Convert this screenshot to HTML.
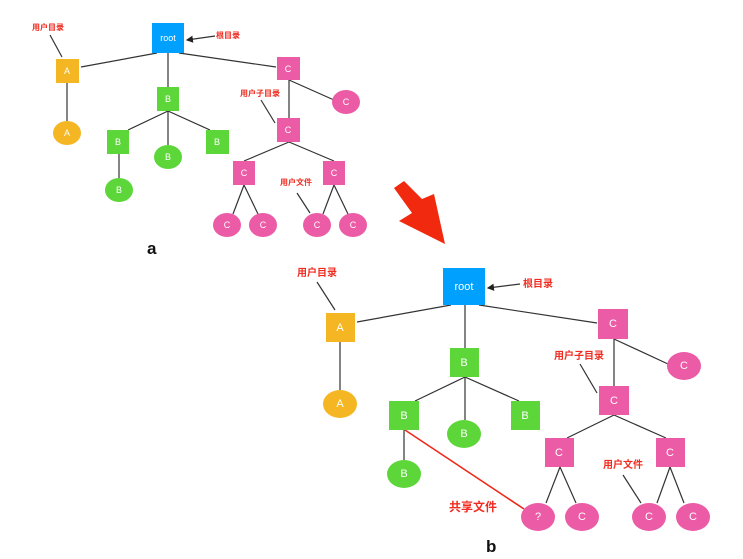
<!DOCTYPE html>
<html><head><meta charset="utf-8"><style>
html,body{margin:0;padding:0;background:#fff;}
svg{display:block;}
text{font-family:"Liberation Sans","Noto Sans CJK SC",sans-serif;}
.n{fill:#fff;font-size:9px;text-anchor:middle;dominant-baseline:central;}
.N{fill:#fff;font-size:11px;text-anchor:middle;dominant-baseline:central;}
.l{fill:#f02b20;font-size:8px;font-weight:bold;}
.L{fill:#f02b20;font-size:10px;font-weight:bold;}
line{stroke:#333;stroke-width:1.2;}
</style></head><body>
<svg width="743" height="559" viewBox="0 0 743 559" xmlns="http://www.w3.org/2000/svg">
<defs><marker id="ar" markerWidth="6" markerHeight="6" refX="5" refY="3" orient="auto"><path d="M0,0 L6,3 L0,6 z" fill="#222"/></marker></defs>
<!-- diagram a lines -->
<line x1="157" y1="53" x2="81" y2="67"/>
<line x1="168" y1="53" x2="168" y2="87"/>
<line x1="179" y1="53" x2="276" y2="67"/>
<line x1="67" y1="83" x2="67" y2="121"/>
<line x1="168" y1="111" x2="128" y2="130"/>
<line x1="168" y1="111" x2="168" y2="146"/>
<line x1="168" y1="111" x2="210" y2="130"/>
<line x1="119" y1="154" x2="119" y2="178"/>
<line x1="289" y1="80" x2="289" y2="118"/>
<line x1="289" y1="80" x2="334" y2="100"/>
<line x1="289" y1="142" x2="244" y2="161"/>
<line x1="289" y1="142" x2="334" y2="161"/>
<line x1="244" y1="185" x2="233" y2="214"/>
<line x1="244" y1="185" x2="258" y2="214"/>
<line x1="334" y1="185" x2="323" y2="214"/>
<line x1="334" y1="185" x2="348" y2="214"/>
<line x1="50" y1="35" x2="62" y2="57"/>
<line x1="261" y1="100" x2="275" y2="123"/>
<line x1="297" y1="193" x2="310" y2="213"/>
<line x1="215" y1="36" x2="187" y2="40" marker-end="url(#ar)"/>
<!-- diagram a nodes -->
<rect x="152" y="23" width="32" height="30" fill="#00a0ff"/><text class="n" x="168" y="38">root</text>
<rect x="56" y="59" width="23" height="24" fill="#f5b623"/><text class="n" x="67" y="71">A</text>
<ellipse cx="67" cy="133" rx="14" ry="12" fill="#f5b623"/><text class="n" x="67" y="133">A</text>
<rect x="157" y="87" width="22" height="24" fill="#5dd63a"/><text class="n" x="168" y="99">B</text>
<rect x="107" y="130" width="22" height="24" fill="#5dd63a"/><text class="n" x="118" y="142">B</text>
<rect x="206" y="130" width="23" height="24" fill="#5dd63a"/><text class="n" x="217" y="142">B</text>
<ellipse cx="168" cy="157" rx="14" ry="12" fill="#5dd63a"/><text class="n" x="168" y="157">B</text>
<ellipse cx="119" cy="190" rx="14" ry="12" fill="#5dd63a"/><text class="n" x="119" y="190">B</text>
<rect x="277" y="57" width="23" height="23" fill="#ec5ba6"/><text class="n" x="288" y="69">C</text>
<ellipse cx="346" cy="102" rx="14" ry="12" fill="#ec5ba6"/><text class="n" x="346" y="102">C</text>
<rect x="277" y="118" width="23" height="24" fill="#ec5ba6"/><text class="n" x="288" y="130">C</text>
<rect x="233" y="161" width="22" height="24" fill="#ec5ba6"/><text class="n" x="244" y="173">C</text>
<rect x="323" y="161" width="22" height="24" fill="#ec5ba6"/><text class="n" x="334" y="173">C</text>
<ellipse cx="227" cy="225" rx="14" ry="12" fill="#ec5ba6"/><text class="n" x="227" y="225">C</text>
<ellipse cx="263" cy="225" rx="14" ry="12" fill="#ec5ba6"/><text class="n" x="263" y="225">C</text>
<ellipse cx="317" cy="225" rx="14" ry="12" fill="#ec5ba6"/><text class="n" x="317" y="225">C</text>
<ellipse cx="353" cy="225" rx="14" ry="12" fill="#ec5ba6"/><text class="n" x="353" y="225">C</text>
<text class="l" x="32" y="30">用户目录</text>
<text class="l" x="216" y="38">根目录</text>
<text class="l" x="240" y="96">用户子目录</text>
<text class="l" x="280" y="185">用户文件</text>
<text x="147" y="254" font-size="17" font-weight="bold" fill="#111">a</text>
<!-- big arrow -->
<polygon points="394,188 404,181 422,199 434,194 445,244 399,221 412,213" fill="#f1290f"/>
<!-- diagram b lines -->
<line x1="451" y1="305" x2="357" y2="322"/>
<line x1="465" y1="305" x2="465" y2="348"/>
<line x1="479" y1="305" x2="597" y2="323"/>
<line x1="340" y1="342" x2="340" y2="390"/>
<line x1="465" y1="377" x2="415" y2="401"/>
<line x1="465" y1="377" x2="465" y2="420"/>
<line x1="465" y1="377" x2="519" y2="401"/>
<line x1="404" y1="430" x2="404" y2="460"/>
<line x1="614" y1="339" x2="614" y2="386"/>
<line x1="614" y1="339" x2="668" y2="364"/>
<line x1="614" y1="415" x2="567" y2="438"/>
<line x1="614" y1="415" x2="666" y2="438"/>
<line x1="560" y1="467" x2="546" y2="503"/>
<line x1="560" y1="467" x2="576" y2="503"/>
<line x1="670" y1="467" x2="657" y2="503"/>
<line x1="670" y1="467" x2="684" y2="503"/>
<line x1="317" y1="282" x2="335" y2="310"/>
<line x1="580" y1="364" x2="597" y2="393"/>
<line x1="623" y1="475" x2="641" y2="503"/>
<line x1="520" y1="284" x2="488" y2="288" marker-end="url(#ar)"/>
<line x1="405" y1="430" x2="524" y2="509" style="stroke:#ee2a1a;stroke-width:1.6"/>
<!-- diagram b nodes -->
<rect x="443" y="268" width="42" height="37" fill="#00a0ff"/><text class="N" x="464" y="287">root</text>
<rect x="326" y="313" width="29" height="29" fill="#f5b623"/><text class="N" x="340" y="328">A</text>
<ellipse cx="340" cy="404" rx="17" ry="14" fill="#f5b623"/><text class="N" x="340" y="404">A</text>
<rect x="450" y="348" width="29" height="29" fill="#5dd63a"/><text class="N" x="464" y="363">B</text>
<rect x="389" y="401" width="30" height="29" fill="#5dd63a"/><text class="N" x="404" y="416">B</text>
<rect x="511" y="401" width="29" height="29" fill="#5dd63a"/><text class="N" x="525" y="416">B</text>
<ellipse cx="464" cy="434" rx="17" ry="14" fill="#5dd63a"/><text class="N" x="464" y="434">B</text>
<ellipse cx="404" cy="474" rx="17" ry="14" fill="#5dd63a"/><text class="N" x="404" y="474">B</text>
<rect x="598" y="309" width="30" height="30" fill="#ec5ba6"/><text class="N" x="613" y="324">C</text>
<ellipse cx="684" cy="366" rx="17" ry="14" fill="#ec5ba6"/><text class="N" x="684" y="366">C</text>
<rect x="599" y="386" width="30" height="29" fill="#ec5ba6"/><text class="N" x="614" y="401">C</text>
<rect x="545" y="438" width="29" height="29" fill="#ec5ba6"/><text class="N" x="559" y="453">C</text>
<rect x="656" y="438" width="29" height="29" fill="#ec5ba6"/><text class="N" x="670" y="453">C</text>
<ellipse cx="538" cy="517" rx="17" ry="14" fill="#ec5ba6"/><text class="N" x="538" y="517">?</text>
<ellipse cx="582" cy="517" rx="17" ry="14" fill="#ec5ba6"/><text class="N" x="582" y="517">C</text>
<ellipse cx="649" cy="517" rx="17" ry="14" fill="#ec5ba6"/><text class="N" x="649" y="517">C</text>
<ellipse cx="693" cy="517" rx="17" ry="14" fill="#ec5ba6"/><text class="N" x="693" y="517">C</text>
<text class="L" x="297" y="276">用户目录</text>
<text class="L" x="523" y="287">根目录</text>
<text class="L" x="554" y="359">用户子目录</text>
<text class="L" x="603" y="468">用户文件</text>
<text x="449" y="511" font-size="12" font-weight="bold" fill="#f02b20">共享文件</text>
<text x="486" y="552" font-size="17" font-weight="bold" fill="#111">b</text>
</svg>
</body></html>
